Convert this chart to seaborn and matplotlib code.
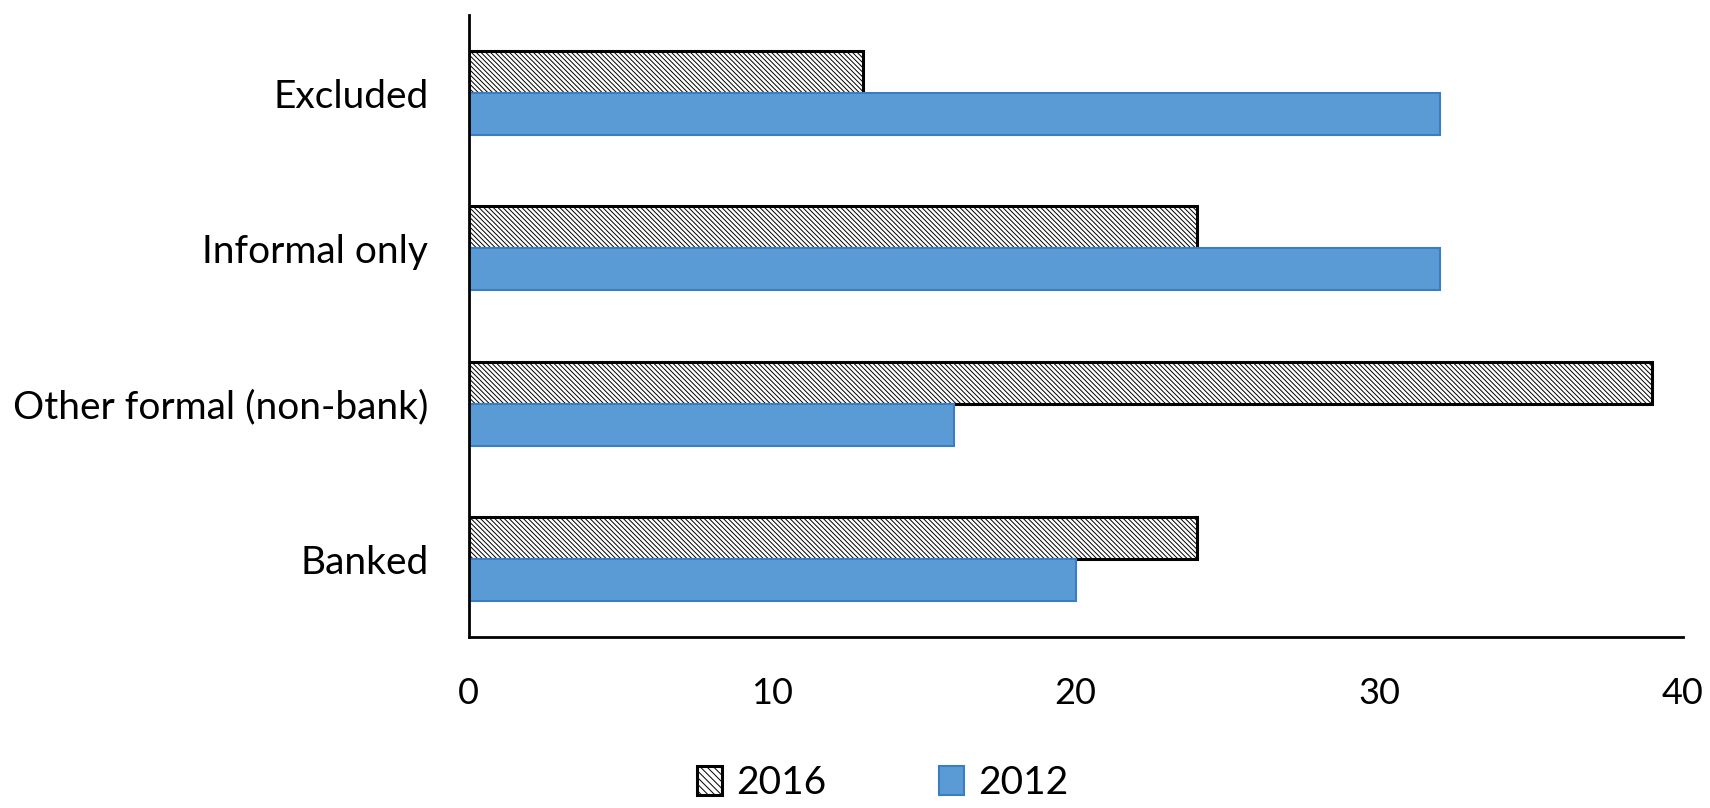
import pandas as pd
import matplotlib
matplotlib.use('Agg')
import matplotlib.pyplot as plt
import seaborn as sns
from matplotlib.patches import Patch

# data
categories = ['Excluded', 'Informal only', 'Other formal (non-bank)', 'Banked']
years = ['2016', '2012']
values_2016 = [13, 24, 39, 24]
values_2012 = [32, 32, 16, 20]
x_ticks = [0, 10, 20, 30, 40]

df = pd.DataFrame({
    'category': categories * 2,
    'year': ['2016'] * len(categories) + ['2012'] * len(categories),
    'value': values_2016 + values_2012,
})

sns.set_theme(style='white')
plt.rcParams['font.family'] = ['Lato', 'DejaVu Sans']
plt.rcParams['hatch.linewidth'] = 0.7
plt.rcParams['text.color'] = 'black'
plt.rcParams['xtick.color'] = 'black'
plt.rcParams['ytick.color'] = 'black'

blue = '#5B9BD5'
blue_edge = '#3A7DC0'
hatch = '\\' * 7

fig = plt.figure(figsize=(17.1, 8.08), dpi=100)
ax = fig.add_axes([0.274, 0.212, 0.71, 0.769])

sns.barplot(data=df, y='category', x='value', hue='year', hue_order=years,
            order=categories, orient='h', width=0.54, ax=ax, legend=False,
            errorbar=None)

for patch in ax.containers[0]:
    patch.set_facecolor('white')
    patch.set_edgecolor('black')
    patch.set_hatch(hatch)
    patch.set_linewidth(2.2)
for patch in ax.containers[1]:
    patch.set_facecolor(blue)
    patch.set_edgecolor(blue_edge)
    patch.set_linewidth(1.5)

ax.set_xlim(0, 40)
ax.set_ylim(3.5, -0.5)
ax.set_xticks(x_ticks)
ax.set_xticklabels([str(t) for t in x_ticks], fontsize=26)
ax.tick_params(axis='y', labelsize=28, length=0, pad=29)
ax.tick_params(axis='x', length=0, pad=29)
ax.set_xlabel('')
ax.set_ylabel('')

for side in ['top', 'right']:
    ax.spines[side].set_visible(False)
for side in ['left', 'bottom']:
    ax.spines[side].set_color('black')
    ax.spines[side].set_linewidth(2)

handles = [
    Patch(facecolor='white', edgecolor='black', hatch='\\' * 5, linewidth=2.2, label='2016'),
    Patch(facecolor=blue, edgecolor=blue_edge, linewidth=1.5, label='2012'),
]
fig.legend(handles=handles, loc='center', bbox_to_anchor=(0.516, 0.031), ncol=2,
           frameon=False, fontsize=28, handlelength=0.65, handleheight=0.8,
           handletextpad=0.35, columnspacing=2.9)

fig.savefig('out.png', dpi=100)
